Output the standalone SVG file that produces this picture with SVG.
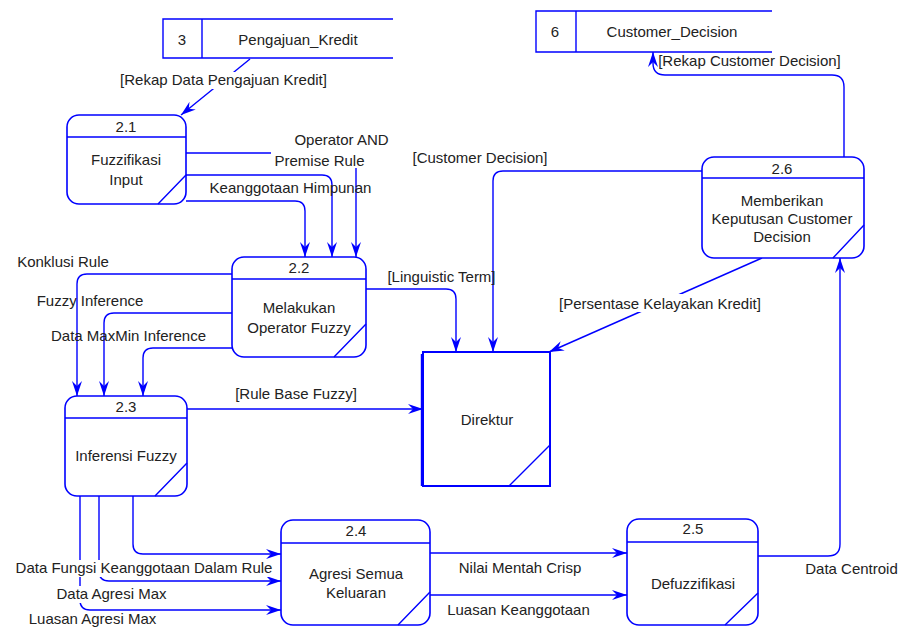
<svg xmlns="http://www.w3.org/2000/svg" width="899" height="629" viewBox="0 0 899 629">
  <style>
    .box { fill: #ffffff; stroke: #0000ff; stroke-width: 1.6; }
    .ln { fill: none; stroke: #0000ff; stroke-width: 1.4; }
    .flow { fill: none; stroke: #0000ff; stroke-width: 1.4; marker-end: url(#arr); }
    text { font-family: "Liberation Sans", Arial, sans-serif; font-size: 15px; fill: #222222; text-anchor: middle; }
    .bg { fill: #ffffff; stroke: none; }
  </style>
  <defs>
    <marker id="arr" markerWidth="16" markerHeight="12" viewBox="0 -6 16 12" refX="15" refY="0" orient="auto" markerUnits="userSpaceOnUse">
      <path d="M0,-5 L15,0 L0,5 L5,0 z" fill="#0000ff"/>
    </marker>
  </defs>
  <rect width="899" height="629" fill="#ffffff"/>

  <!-- data flows -->
  <g id="connectors">
    <path class="flow" d="M250,59 L181,115"/>
    <path class="flow" d="M186,153 H346 Q356,153 356,163 V257"/>
    <path class="flow" d="M186,175 H322 Q332,175 332,185 V257"/>
    <path class="flow" d="M186,201 H295 Q305,201 305,211 V257"/>
    <path class="flow" d="M232,274 H87 Q77,274 77,284 V396"/>
    <path class="flow" d="M232,313 H114 Q104,313 104,323 V396"/>
    <path class="flow" d="M232,348 H153 Q143,348 143,358 V396"/>
    <path class="flow" d="M366,289 H446 Q456,289 456,299 V352"/>
    <path class="flow" d="M702,171 H503 Q493,171 493,181 V352"/>
    <path class="flow" d="M762,258 L549,352"/>
    <path class="flow" d="M187,409 H423"/>
    <path class="flow" d="M844,157 V87 Q844,75 832,75 H665 Q653,75 653,63 V52"/>
    <path class="flow" d="M133,496 V544 Q133,554 143,554 H281"/>
    <path class="flow" d="M99,496 V571 Q99,581 109,581 H281"/>
    <path class="flow" d="M80,496 V600 Q80,610 90,610 H281"/>
    <path class="flow" d="M430,553 H627"/>
    <path class="flow" d="M430,595 H627"/>
    <path class="flow" d="M758,556 H828 Q840,556 840,544 V258"/>
  </g>

  <!-- flow labels -->
  <g id="labels">
    <rect class="bg" x="116" y="72" width="215" height="17"/>
    <text x="223.5" y="85">[Rekap Data Pengajuan Kredit]</text>
    <rect class="bg" x="293" y="132" width="97" height="17"/>
    <text x="341.5" y="145">Operator AND</text>
    <rect class="bg" x="271" y="150" width="97" height="18"/>
    <text x="319.5" y="166">Premise Rule</text>
    <text x="290.5" y="193">Keanggotaan Himpunan</text>
    <text x="63" y="267">Konklusi Rule</text>
    <text x="90" y="306">Fuzzy Inference</text>
    <text x="128.5" y="341">Data MaxMin Inference</text>
    <text x="441.5" y="282">[Linguistic Term]</text>
    <text x="480" y="163">[Customer Decision]</text>
    <rect class="bg" x="555" y="294" width="210" height="18"/>
    <text x="660" y="309">[Persentase Kelayakan Kredit]</text>
    <text x="296" y="399">[Rule Base Fuzzy]</text>
    <text x="749.5" y="66">[Rekap Customer Decision]</text>
    <rect class="bg" x="10" y="560" width="268" height="17"/>
    <text x="144" y="573">Data Fungsi Keanggotaan Dalam Rule</text>
    <rect class="bg" x="55" y="586" width="113" height="17"/>
    <text x="111.5" y="599">Data Agresi Max</text>
    <text x="92.5" y="624">Luasan Agresi Max</text>
    <text x="520" y="573">Nilai Mentah Crisp</text>
    <text x="518.5" y="615">Luasan Keanggotaan</text>
    <text x="851.5" y="574">Data Centroid</text>
  </g>

  <!-- data stores -->
  <g id="store-3">
    <path class="ln" d="M393,19 H163 V58 H393 M202,19 V58"/>
    <text x="182" y="45">3</text>
    <text x="298" y="45">Pengajuan_Kredit</text>
  </g>
  <g id="store-6">
    <path class="ln" d="M772,11 H536 V52 H772 M576,11 V52"/>
    <text x="555" y="37">6</text>
    <text x="672" y="37">Customer_Decision</text>
  </g>

  <!-- processes -->
  <g id="p2-1">
    <rect class="box" x="67" y="115" width="119" height="89" rx="12"/>
    <path class="ln" d="M67,137 H186 M158,204 L186,175"/>
    <text x="126" y="132">2.1</text>
    <text x="126" y="165">Fuzzifikasi</text>
    <text x="126" y="185">Input</text>
  </g>
  <g id="p2-2">
    <rect class="box" x="232" y="257" width="134" height="100" rx="12"/>
    <path class="ln" d="M232,279 H366 M334,357 L366,324"/>
    <text x="299" y="273">2.2</text>
    <text x="299" y="313">Melakukan</text>
    <text x="299" y="333">Operator Fuzzy</text>
  </g>
  <g id="p2-3">
    <rect class="box" x="65" y="396" width="122" height="100" rx="12"/>
    <path class="ln" d="M65,418 H187 M155,496 L187,463"/>
    <text x="126" y="412">2.3</text>
    <text x="126" y="461">Inferensi Fuzzy</text>
  </g>
  <g id="p2-4">
    <rect class="box" x="281" y="520" width="149" height="105" rx="12"/>
    <path class="ln" d="M281,543 H430 M398,625 L430,592"/>
    <text x="356" y="536">2.4</text>
    <text x="356" y="579">Agresi Semua</text>
    <text x="356" y="598">Keluaran</text>
  </g>
  <g id="p2-5">
    <rect class="box" x="627" y="519" width="131" height="106" rx="12"/>
    <path class="ln" d="M627,542 H758 M725,625 L758,593"/>
    <text x="693" y="534">2.5</text>
    <text x="693" y="589">Defuzzifikasi</text>
  </g>
  <g id="p2-6">
    <rect class="box" x="702" y="157" width="162" height="101" rx="12"/>
    <path class="ln" d="M702,178 H864 M833,258 L864,225"/>
    <text x="782" y="174">2.6</text>
    <text x="782" y="206">Memberikan</text>
    <text x="782" y="224">Keputusan Customer</text>
    <text x="782" y="242">Decision</text>
  </g>

  <!-- external entity -->
  <g id="direktur">
    <rect x="423" y="352" width="127" height="134" fill="#ffffff" stroke="#0000ff" stroke-width="2"/>
    <path class="ln" d="M421.5,354 V486 M509,486 L550,445"/>
    <text x="487" y="425">Direktur</text>
  </g>
</svg>
